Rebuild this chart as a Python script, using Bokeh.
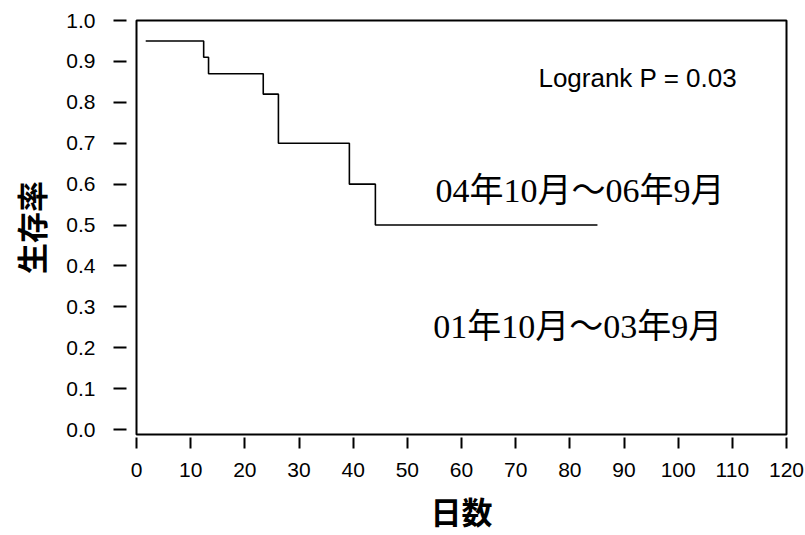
from bokeh.plotting import figure
from bokeh.models import LinearAxis, FixedTicker, Range1d, Label, NumeralTickFormatter
from bokeh.embed import file_html
from bokeh.resources import INLINE

# Kaplan-Meier step data (days, survival)
days = [1.7, 12.4, 13.3, 23.4, 26.2, 39.3, 44.1, 85.1]
surv = [0.95, 0.91, 0.87, 0.82, 0.70, 0.60, 0.50, 0.50]

x_ticks = [0, 10, 20, 30, 40, 50, 60, 70, 80, 90, 100, 110, 120]
y_ticks = [0.0, 0.1, 0.2, 0.3, 0.4, 0.5, 0.6, 0.7, 0.8, 0.9, 1.0]

y_title = "生存率"
x_title = "日数"
stat_text = "Logrank P = 0.03"
group_new = "04年10月～06年9月"
group_old = "01年10月～03年9月"

p = figure(width=805, height=535, output_backend="svg", toolbar_location=None,
           x_range=Range1d(0, 120), y_range=Range1d(-0.012, 1.0),
           x_axis_location=None, y_axis_location=None,
           min_border_left=136, min_border_right=19, min_border_top=20,
           min_border_bottom=89)
p.grid.visible = False
p.outline_line_color = "black"
p.outline_line_width = 2
p.background_fill_color = "white"
p.border_fill_color = "white"

def spacer_axis(length, tick):
    ax = LinearAxis(ticker=FixedTicker(ticks=[tick]), axis_line_color=None,
                    major_tick_out=length, major_tick_in=0,
                    major_tick_line_color=None, minor_tick_line_color=None,
                    minor_tick_out=0, major_label_standoff=0,
                    major_label_overrides={tick: "."},
                    major_label_text_font_size="1px",
                    major_label_text_color=None)
    return ax

# spacer axes to detach ticks from the frame
p.add_layout(spacer_axis(10, 0.5), "left")
p.add_layout(spacer_axis(3, 60), "below")

yax = LinearAxis(ticker=FixedTicker(ticks=y_ticks),
                 formatter=NumeralTickFormatter(format="0.0"),
                 axis_line_color=None, major_tick_out=13, major_tick_in=0,
                 major_tick_line_width=2, major_tick_line_color="black",
                 minor_tick_line_color=None, major_label_standoff=18,
                 major_label_text_font="Liberation Sans",
                 major_label_text_font_size="21px",
                 major_label_text_color="black",
                 axis_label=y_title, axis_label_standoff=10,
                 axis_label_text_font="Noto Sans CJK JP",
                 axis_label_text_font_style="bold",
                 axis_label_text_font_size="31px",
                 axis_label_text_color="black")
p.add_layout(yax, "left")

xax = LinearAxis(ticker=FixedTicker(ticks=x_ticks),
                 axis_line_color=None, major_tick_out=11, major_tick_in=0,
                 major_tick_line_width=2, major_tick_line_color="black",
                 minor_tick_line_color=None, major_label_standoff=14,
                 major_label_text_font="Liberation Sans",
                 major_label_text_font_size="21px",
                 major_label_text_color="black",
                 axis_label=x_title, axis_label_standoff=8,
                 axis_label_text_font="Noto Sans CJK JP",
                 axis_label_text_font_style="bold",
                 axis_label_text_font_size="31px",
                 axis_label_text_color="black")
p.add_layout(xax, "below")

p.step(days, surv, mode="after", line_color="black", line_width=1.6)

p.add_layout(Label(x=74.2, y=0.859, text=stat_text, text_font="Liberation Sans",
                   text_font_size="26px", text_color="black",
                   text_baseline="alphabetic"))
p.add_layout(Label(x=55.2, y=0.584, text=group_new,
                   text_font="Liberation Serif, Noto Sans CJK JP",
                   text_font_size="34px", text_color="black",
                   text_baseline="alphabetic"))
p.add_layout(Label(x=54.8, y=0.252, text=group_old,
                   text_font="Liberation Serif, Noto Sans CJK JP",
                   text_font_size="34px", text_color="black",
                   text_baseline="alphabetic"))

open("out.html", "w").write(file_html(p, INLINE))
